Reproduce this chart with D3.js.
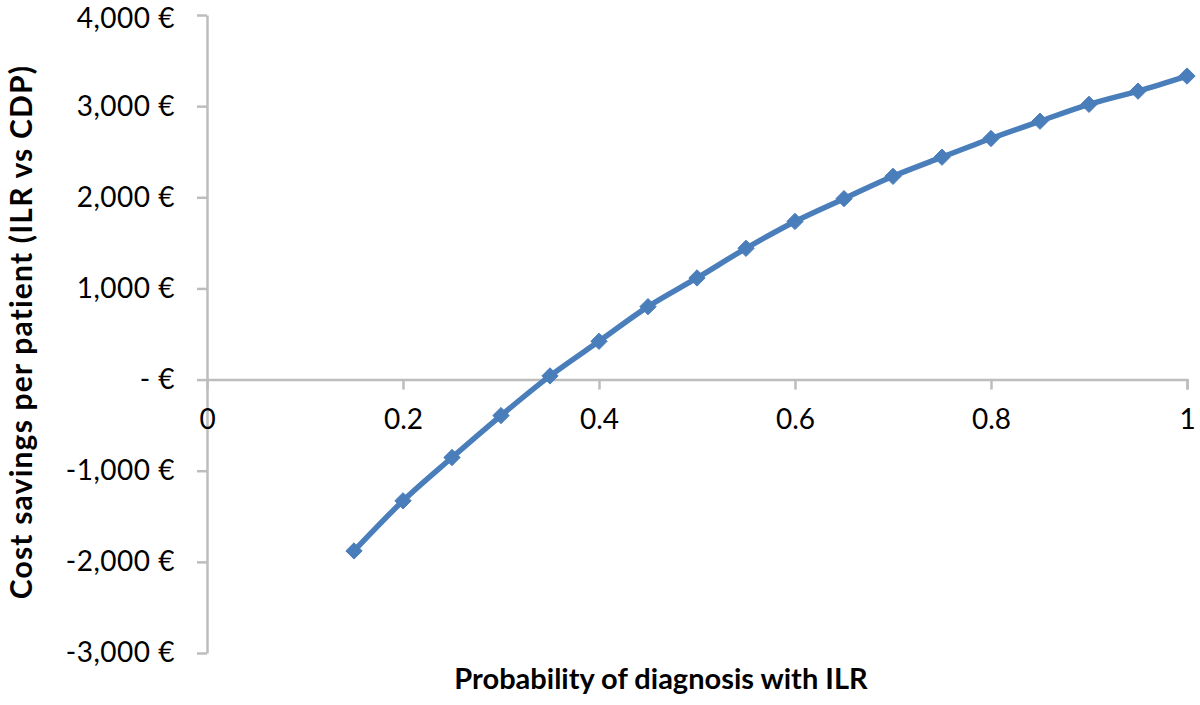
<!DOCTYPE html>
<html>
<head>
<meta charset="utf-8">
<script src="https://cdn.jsdelivr.net/npm/d3@7"></script>
<style>
  html, body { margin: 0; padding: 0; background: #fff; }
  svg { display: block; }
  text { font-family: Lato, "Open Sans", sans-serif; fill: #000; }
</style>
</head>
<body>
<svg id="chart" width="1200" height="705"></svg>
<script>
// ---- data ----
const probabilities = [0.15, 0.2, 0.25, 0.3, 0.35, 0.4, 0.45, 0.5, 0.55, 0.6, 0.65, 0.7, 0.75, 0.8, 0.85, 0.9, 0.95, 1.0];
const savings = [-1880, -1330, -855, -395, 40, 420, 800, 1115, 1440, 1735, 1985, 2230, 2440, 2645, 2835, 3020, 3165, 3330];
const xTickValues = [0, 0.2, 0.4, 0.6, 0.8, 1];
const xTickLabels = ["0", "0.2", "0.4", "0.6", "0.8", "1"];
const yTickValues = [-3000, -2000, -1000, 0, 1000, 2000, 3000, 4000];
const yTickLabels = ["-3,000 €", "-2,000 €", "-1,000 €", "- €", "1,000 €", "2,000 €", "3,000 €", "4,000 €"];
const xTitle = "Probability of diagnosis with ILR";
const yTitle = "Cost savings per patient (ILR vs CDP)";

// ---- layout ----
const svg = d3.select("#chart");
const axisColor = "#bdbdbd";
const lineColor = "#4a7ebb";

const x = d3.scaleLinear().domain([0, 1]).range([207, 1187]);
const y = d3.scaleLinear().domain([-3000, 4000]).range([653, 15]);

// Y axis (left ticks)
const yAxis = d3.axisLeft(y)
  .tickValues(yTickValues)
  .tickFormat((d, i) => yTickLabels[i])
  .tickSizeInner(10)
  .tickSizeOuter(0)
  .tickPadding(22);
const gy = svg.append("g").attr("transform", `translate(${x(0)},0)`).call(yAxis);
gy.select(".domain").attr("stroke", axisColor).attr("stroke-width", 2.5);
gy.selectAll(".tick line").attr("stroke", axisColor).attr("stroke-width", 2.5);
gy.selectAll(".tick text")
  .attr("font-size", 28).attr("font-family", "Lato").attr("fill", "#000")
  .attr("letter-spacing", 0.5);
gy.selectAll(".tick text").filter(d => d === 4000).attr("dy", "0.45em");

// X axis at zero (ticks downward)
const xAxis = d3.axisBottom(x)
  .tickValues(xTickValues)
  .tickFormat((d, i) => xTickLabels[i])
  .tickSizeInner(10)
  .tickSizeOuter(10)
  .tickPadding(20);
const gx = svg.append("g").attr("transform", `translate(0,${y(0)})`).call(xAxis);
gx.select(".domain").attr("stroke", axisColor).attr("stroke-width", 2.5);
gx.selectAll(".tick line").attr("stroke", axisColor).attr("stroke-width", 2.5);
gx.selectAll(".tick line").filter(d => d === 0).remove();
gx.selectAll(".tick text").attr("font-size", 28).attr("font-family", "Lato").attr("fill", "#000");

// Line
const pts = probabilities.map((p, i) => [p, savings[i]]);
const line = d3.line().x(d => x(d[0])).y(d => y(d[1])).curve(d3.curveMonotoneX);
svg.append("path")
  .datum(pts)
  .attr("d", line)
  .attr("fill", "none")
  .attr("stroke", lineColor)
  .attr("stroke-width", 5.5)
  .attr("stroke-linejoin", "round");

// Diamond markers
const diamond = d3.symbol().type(d3.symbolDiamond2).size(170);
svg.append("g").selectAll("path")
  .data(pts)
  .join("path")
  .attr("d", diamond)
  .attr("transform", d => `translate(${x(d[0])},${y(d[1])})`)
  .attr("fill", lineColor)
  .attr("stroke", lineColor)
  .attr("stroke-width", 1);

// Axis titles
svg.append("text")
  .attr("x", 661)
  .attr("y", 689)
  .attr("text-anchor", "middle")
  .attr("font-size", 29)
  .attr("font-weight", "bold")
  .text(xTitle);

svg.append("text")
  .attr("transform", "translate(32,332) rotate(-90)")
  .attr("text-anchor", "middle")
  .attr("font-size", 30)
  .attr("font-weight", "bold")
  .attr("letter-spacing", 1.2)
  .text(yTitle);
</script>
</body>
</html>
